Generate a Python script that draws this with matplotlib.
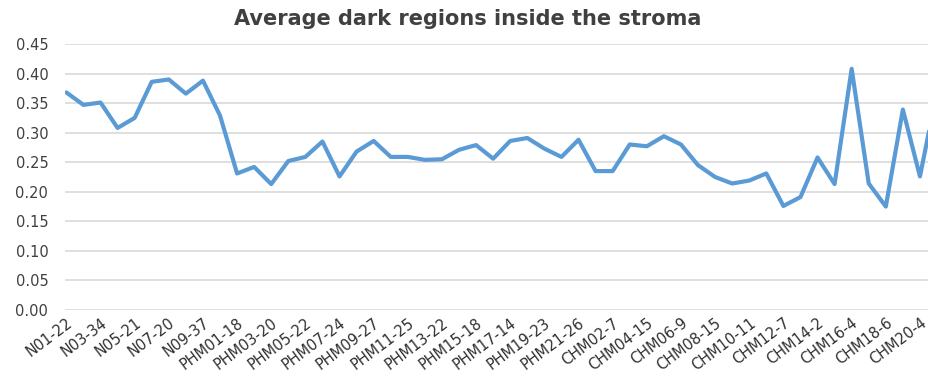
import matplotlib
matplotlib.use("Agg")
import matplotlib.pyplot as plt

tick_labels = ["N01-22", "N03-34", "N05-21", "N07-20", "N09-37",
               "PHM01-18", "PHM03-20", "PHM05-22", "PHM07-24", "PHM09-27",
               "PHM11-25", "PHM13-22", "PHM15-18", "PHM17-14", "PHM19-23",
               "PHM21-26", "CHM02-7", "CHM04-15", "CHM06-9", "CHM08-15",
               "CHM10-11", "CHM12-7", "CHM14-2", "CHM16-4", "CHM18-6", "CHM20-4"]

values = [0.368, 0.347, 0.351, 0.308, 0.325, 0.386, 0.390, 0.366, 0.388, 0.329,
          0.231, 0.242, 0.213, 0.252, 0.259, 0.285, 0.226, 0.268, 0.286, 0.259,
          0.259, 0.254, 0.255, 0.271, 0.279, 0.256, 0.286, 0.291, 0.273, 0.259,
          0.288, 0.235, 0.235, 0.280, 0.277, 0.294, 0.280, 0.245, 0.225, 0.214,
          0.219, 0.231, 0.176, 0.191, 0.258, 0.213, 0.408, 0.214, 0.175, 0.339,
          0.226, 0.370]

yticks = [0.00, 0.05, 0.10, 0.15, 0.20, 0.25, 0.30, 0.35, 0.40, 0.45]

fig = plt.figure(figsize=(9.29, 3.77), dpi=100)
ax = fig.add_axes([65/929, 1 - 310/377, 1 - 65/929, (310 - 44)/377])

x = list(range(len(values)))
ax.plot(x, values, color="#5B9BD5", linewidth=3.0, solid_joinstyle="round",
        solid_capstyle="round", zorder=3)

ax.set_ylim(0, 0.45)
ax.set_xlim(-0.08, 50.53)
ax.set_yticks(yticks)
ax.set_yticklabels([f"{v:.2f}" for v in yticks])
ax.set_xticks(x[::2])
ax.set_xticklabels(tick_labels, rotation=37, ha="right", va="top",
                   rotation_mode="anchor")

ax.grid(axis="y", color="#D9D9D9", linewidth=1.2)
ax.set_axisbelow(True)
for s in ax.spines.values():
    s.set_visible(False)
ax.tick_params(axis="both", length=0)
ax.tick_params(axis="y", labelsize=10.5, labelcolor="#404040", pad=12)
ax.tick_params(axis="x", labelsize=10.5, labelcolor="#303030", pad=4)

fig.text(468/929, 1 - 19/377, "Average dark regions inside the stroma",
         ha="center", va="center", fontsize=15, fontweight="bold",
         color="#404040")

fig.savefig("out.png", dpi=100)
